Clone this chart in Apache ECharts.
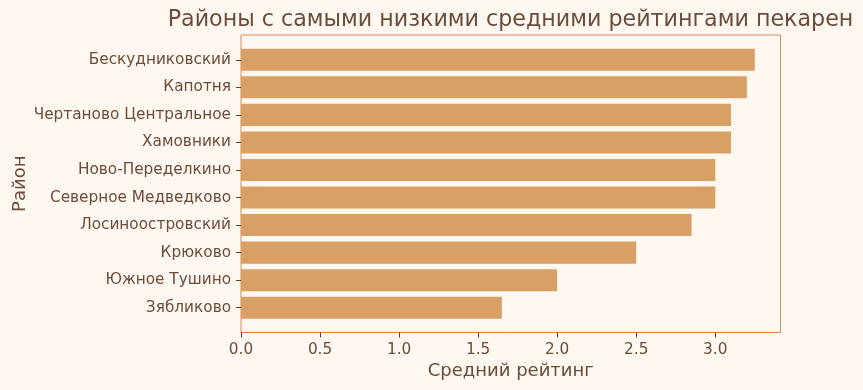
<!DOCTYPE html>
<html>
<head>
<meta charset="utf-8">
<script src="https://cdn.jsdelivr.net/npm/echarts@6/dist/echarts.min.js"></script>
<style>
html,body{margin:0;padding:0;background:#FFF8F1;}
#chart{width:863px;height:390px;}
</style>
</head>
<body>
<div id="chart"></div>
<script>
const titleText = 'Районы с самыми низкими средними рейтингами пекарен';
const xAxisTitle = 'Средний рейтинг';
const yAxisTitle = 'Район';
const districts = ['Бескудниковский','Капотня','Чертаново Центральное','Хамовники','Ново-Переделкино','Северное Медведково','Лосиноостровский','Крюково','Южное Тушино','Зябликово'];
const ratings = [3.25, 3.2, 3.1, 3.1, 3.0, 3.0, 2.85, 2.5, 2.0, 1.65];
const xMax = 3.4125;
const xTickStep = 0.5;

const textColor = '#6B4C3A';
const font = 'DejaVu Sans';
const chart = echarts.init(document.getElementById('chart'), null, {renderer:'canvas'});
chart.setOption({
  backgroundColor: '#FFF8F1',
  animation: false,
  title: {
    text: titleText, left: 505.5, top: 4, textAlign: 'center',
    textStyle: {fontFamily: font, fontSize: 22.2, fontWeight: 'normal', color: textColor}
  },
  grid: [
    {left: 241, right: 82.5, top: 46, bottom: 68.5, containLabel: false, outerBoundsMode: 'none'},
    {left: 241, right: 82.5, top: 35, bottom: 57.5, show: true, borderColor: '#D4895A', borderWidth: 1, backgroundColor: 'transparent', containLabel: false, outerBoundsMode: 'none'}
  ],
  xAxis: [
    {gridIndex: 0, type: 'value', min: 0, max: xMax, show: false},
    {gridIndex: 1, type: 'value', min: 0, max: xMax, interval: xTickStep,
     name: xAxisTitle, nameLocation: 'middle', nameGap: 30, nameMoveOverlap: false,
     nameTextStyle: {fontFamily: font, fontSize: 18, color: textColor},
     axisLine: {show: true, lineStyle: {color: '#D4895A'}},
     axisTick: {show: true, length: 5, lineStyle: {color: '#5a4030'}},
     axisLabel: {fontFamily: font, fontSize: 15.3, color: textColor, margin: 10,
       formatter: v => v.toFixed(1), showMaxLabel: false},
     splitLine: {show: false}}
  ],
  yAxis: [
    {gridIndex: 0, type: 'category', data: districts, inverse: true,
     name: yAxisTitle, nameLocation: 'middle', nameGap: 212, nameRotate: 90, nameMoveOverlap: false,
     nameTextStyle: {fontFamily: font, fontSize: 18, color: textColor},
     axisLine: {show: false},
     axisTick: {show: true, alignWithLabel: true, length: 5, lineStyle: {color: '#5a4030'}},
     axisLabel: {fontFamily: font, fontSize: 15.3, color: textColor, margin: 10}},
    {gridIndex: 1, type: 'value', min: 0, max: 1, show: false}
  ],
  series: [{
    type: 'bar', xAxisIndex: 0, yAxisIndex: 0,
    data: ratings, barWidth: '80%',
    itemStyle: {color: '#D9A066'}
  }]
});
</script>
</body>
</html>
